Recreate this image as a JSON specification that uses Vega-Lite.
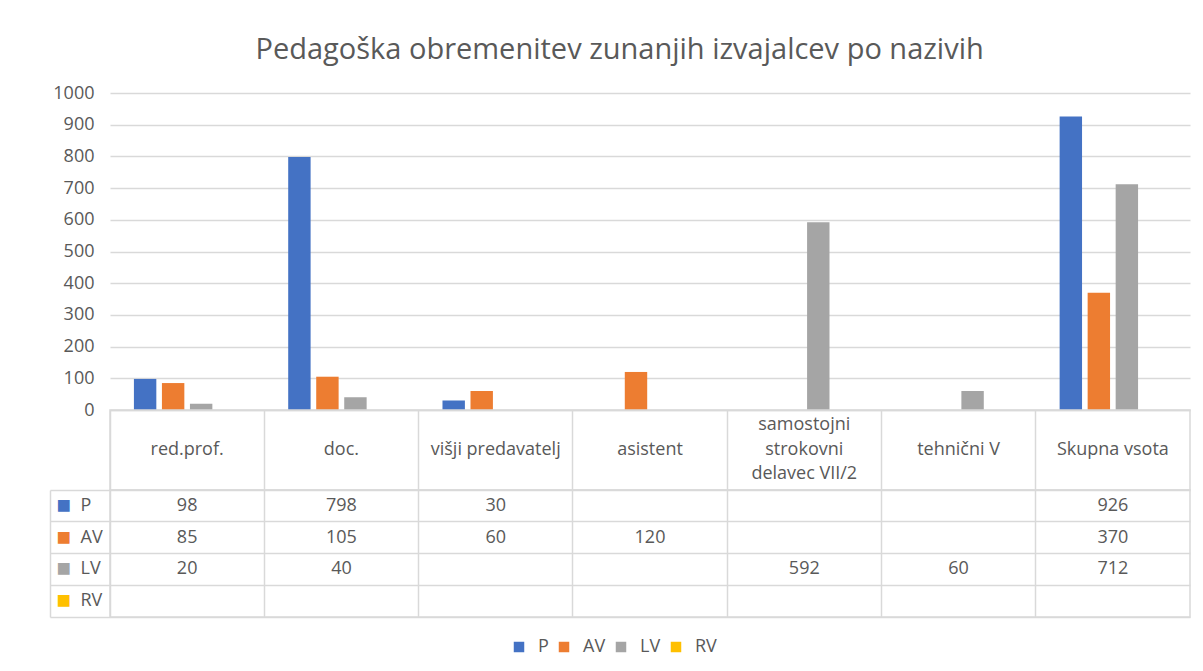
{
  "$schema": "https://vega.github.io/schema/vega-lite/v6.json",
  "background": "white",
  "padding": {"left": 48, "top": 36, "right": 15, "bottom": 10},
  "spacing": 0,
  "bounds": "flush",
  "title": {"text": "Pedagoška obremenitev zunanjih izvajalcev po nazivih", "fontSize": 29, "fontWeight": "normal", "color": "#595959", "anchor": "middle", "offset": 19},
  "datasets": {
    "vals": [
      {"cat": "red.prof.", "series": "P", "value": 98},
      {"cat": "red.prof.", "series": "AV", "value": 85},
      {"cat": "red.prof.", "series": "LV", "value": 20},
      {"cat": "doc.", "series": "P", "value": 798},
      {"cat": "doc.", "series": "AV", "value": 105},
      {"cat": "doc.", "series": "LV", "value": 40},
      {"cat": "višji predavatelj", "series": "P", "value": 30},
      {"cat": "višji predavatelj", "series": "AV", "value": 60},
      {"cat": "asistent", "series": "AV", "value": 120},
      {"cat": "samostojni strokovni delavec VII/2", "series": "LV", "value": 592},
      {"cat": "tehnični V", "series": "LV", "value": 60},
      {"cat": "Skupna vsota", "series": "P", "value": 926},
      {"cat": "Skupna vsota", "series": "AV", "value": 370},
      {"cat": "Skupna vsota", "series": "LV", "value": 712}
    ],
    "cats": [
      {"cat": "red.prof.", "label": "red.prof.", "lines": 1},
      {"cat": "doc.", "label": "doc.", "lines": 1},
      {"cat": "višji predavatelj", "label": "višji predavatelj", "lines": 1},
      {"cat": "asistent", "label": "asistent", "lines": 1},
      {"cat": "samostojni strokovni delavec VII/2", "label": "samostojni\nstrokovni\ndelavec VII/2", "lines": 3},
      {"cat": "tehnični V", "label": "tehnični V", "lines": 1},
      {"cat": "Skupna vsota", "label": "Skupna vsota", "lines": 1}
    ]
  },
  "config": {
    "font": "Open Sans",
    "view": {"stroke": "#d9d9d9", "strokeWidth": 1.5},
    "axis": {"labelFont": "Open Sans", "labelColor": "#595959"},
    "axisX": {"minExtent": 0, "maxExtent": 0},
    "legend": {"labelFont": "Open Sans"}
  },
  "vconcat": [
    {
      "width": 1080,
      "height": 317,
      "view": {"stroke": null},
      "data": {"name": "vals"},
      "mark": {"type": "bar"},
      "encoding": {
        "x": {"field": "cat", "type": "nominal", "sort": null,
          "scale": {"domain": ["red.prof.", "doc.", "višji predavatelj", "asistent", "samostojni strokovni delavec VII/2", "tehnični V", "Skupna vsota"], "paddingInner": 0.31, "paddingOuter": 0.155},
          "axis": {"title": null, "labels": false, "ticks": false, "domain": true, "domainColor": "#d9d9d9", "domainWidth": 1.5, "minExtent": 0, "maxExtent": 0}},
        "xOffset": {"field": "series", "type": "nominal",
          "scale": {"domain": ["P", "AV", "LV", "RV"], "paddingInner": 0.2, "paddingOuter": 0}},
        "y": {"field": "value", "type": "quantitative",
          "scale": {"domain": [0, 1000], "nice": false},
          "axis": {"title": null, "values": [0, 100, 200, 300, 400, 500, 600, 700, 800, 900, 1000], "format": "d", "domain": false, "ticks": false, "labelPadding": 16, "labelFontSize": 18, "gridColor": "#d9d9d9", "gridWidth": 1.5}},
        "color": {"field": "series", "type": "nominal",
          "scale": {"domain": ["P", "AV", "LV", "RV"], "range": ["#4472C4", "#ED7D31", "#A5A5A5", "#FFC000"]},
          "legend": {"title": null, "orient": "none", "legendX": 400, "legendY": 545, "direction": "horizontal", "symbolType": "square", "symbolSize": 110, "symbolStrokeWidth": 0, "labelFontSize": 18, "labelColor": "#595959", "labelOffset": 10, "columnPadding": 6}}
      }
    },
    {
      "width": 1080,
      "height": 80,
      "data": {"name": "cats"},
      "encoding": {
        "x": {"field": "cat", "type": "nominal", "sort": null,
          "scale": {"type": "band", "domain": ["red.prof.", "doc.", "višji predavatelj", "asistent", "samostojni strokovni delavec VII/2", "tehnični V", "Skupna vsota"], "paddingInner": 0, "paddingOuter": 0},
          "axis": {"title": null, "labels": false, "ticks": false, "domain": false, "grid": true, "bandPosition": 0, "gridColor": "#d9d9d9", "gridWidth": 1.5, "minExtent": 0, "maxExtent": 0}},
        "text": {"field": "label"}
      },
      "layer": [
        {
          "transform": [{"filter": "datum.lines === 1"}],
          "mark": {"type": "text", "fontSize": 18, "color": "#595959"}
        },
        {
          "transform": [{"filter": "datum.lines === 3"}],
          "mark": {"type": "text", "lineBreak": "\n", "fontSize": 18, "color": "#595959", "lineHeight": 24.5, "dy": -25}
        }
      ]
    },
    {
      "width": 1080,
      "height": 127,
      "data": {"name": "vals"},
      "layer": [
        {
          "mark": {"type": "text", "fontSize": 18, "color": "#595959"},
          "encoding": {
            "x": {"field": "cat", "type": "nominal", "sort": null,
              "scale": {"type": "band", "domain": ["red.prof.", "doc.", "višji predavatelj", "asistent", "samostojni strokovni delavec VII/2", "tehnični V", "Skupna vsota"], "paddingInner": 0, "paddingOuter": 0},
              "axis": {"title": null, "labels": false, "ticks": false, "domain": false, "grid": true, "bandPosition": 0, "gridColor": "#d9d9d9", "gridWidth": 1.5, "minExtent": 0, "maxExtent": 0}},
            "y": {"field": "series", "type": "nominal", "sort": null,
              "scale": {"type": "band", "domain": ["P", "AV", "LV", "RV"], "paddingInner": 0, "paddingOuter": 0},
              "axis": {"title": null, "orient": "left", "labels": false, "domain": false, "ticks": true, "tickSize": 60, "tickColor": "#d9d9d9", "tickWidth": 1.5, "bandPosition": 1, "tickExtra": true, "grid": true, "gridColor": "#d9d9d9", "gridWidth": 1.5}},
            "text": {"field": "value", "type": "quantitative"}
          }
        },
        {
          "mark": {"type": "point", "opacity": 0},
          "encoding": {
            "y": {"field": "series", "type": "nominal", "sort": null,
              "axis": {"title": null, "orient": "left", "offset": 60, "domain": true, "domainColor": "#d9d9d9", "domainWidth": 1.5, "ticks": false, "grid": false,
                "labelExpr": "'■'", "labelAlign": "left", "labelPadding": -6, "labelFontSize": 24,
                "labelColor": {"condition": [
                  {"test": "datum.value === 'P'", "value": "#4472C4"},
                  {"test": "datum.value === 'AV'", "value": "#ED7D31"},
                  {"test": "datum.value === 'LV'", "value": "#A5A5A5"}
                ], "value": "#FFC000"}}}
          }
        },
        {
          "mark": {"type": "point", "opacity": 0},
          "encoding": {
            "y": {"field": "series", "type": "nominal", "sort": null,
              "axis": {"title": null, "orient": "left", "domain": false, "ticks": false, "grid": false, "labelAlign": "left", "labelPadding": 30, "labelFontSize": 18, "labelColor": "#595959"}}
          }
        }
      ],
      "resolve": {"axis": {"y": "independent"}}
    }
  ]
}
